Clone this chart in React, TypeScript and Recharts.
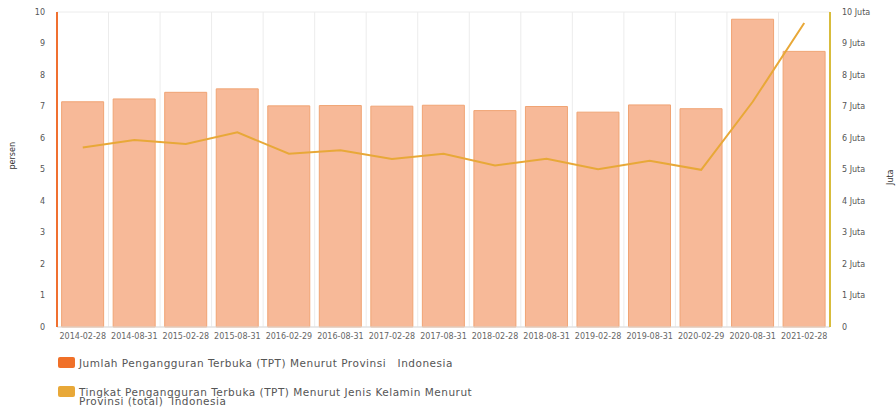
import { ComposedChart, Bar, Line, XAxis, YAxis, CartesianGrid } from "recharts";

const periode = [
  "2014-02-28", "2014-08-31", "2015-02-28", "2015-08-31", "2016-02-29",
  "2016-08-31", "2017-02-28", "2017-08-31", "2018-02-28", "2018-08-31",
  "2019-02-28", "2019-08-31", "2020-02-29", "2020-08-31", "2021-02-28",
];
// jumlah pengangguran (juta orang)
const jumlah = [7.15, 7.24, 7.45, 7.56, 7.02, 7.03, 7.01, 7.04, 6.87, 7.0, 6.82, 7.05, 6.93, 9.77, 8.75];
// tingkat pengangguran (persen)
const tingkat = [5.7, 5.94, 5.81, 6.18, 5.5, 5.61, 5.33, 5.5, 5.13, 5.34, 5.01, 5.28, 4.99, 7.15, 9.65];
const ticksKiri = [0, 1, 2, 3, 4, 5, 6, 7, 8, 9, 10];

const data = periode.map((p, i) => ({ periode: p, jumlah: jumlah[i], tingkat: tingkat[i] }));

const legendItems = [
  { color: "#f07028", label: "Jumlah Pengangguran Terbuka (TPT) Menurut Provinsi   Indonesia" },
  { color: "#e8a838", label: "Tingkat Pengangguran Terbuka (TPT) Menurut Jenis Kelamin Menurut\nProvinsi (total)  Indonesia" },
];

export default function App() {
  const font = "'DejaVu Sans', sans-serif";
  return (
    <div style={{ position: "absolute", left: 0, top: 0, width: 896, height: 410, background: "#fff", fontFamily: font }}>
      <ComposedChart
        width={896}
        height={345}
        data={data}
        margin={{ top: 12, right: 0, bottom: 0, left: 0 }}
        barCategoryGap="9%"
      >
        <CartesianGrid
          stroke="#ececec"
          verticalCoordinatesGenerator={({ offset }: any) =>
            Array.from({ length: periode.length + 1 }, (_, i) => offset.left + (i * offset.width) / periode.length)
          }
        />
        <XAxis
          dataKey="periode"
          interval={0}
          height={18}
          tickLine={false}
          axisLine={{ stroke: "#dddddd" }}
          tickSize={0}
          tickMargin={6}
          tick={{ fontSize: 8, fill: "#666", fontFamily: font }}
        />
        <YAxis
          yAxisId="kiri"
          width={57}
          domain={[0, 10]}
          ticks={ticksKiri}
          tickLine={false}
          tickSize={0}
          tickMargin={12}
          axisLine={{ stroke: "#f07030", strokeWidth: 2 }}
          tick={{ fontSize: 8, fill: "#555", fontFamily: font }}
          label={{ value: "persen", angle: -90, position: "insideLeft", offset: 12, style: { fontSize: 8, fill: "#333", fontFamily: font } }}
        />
        <YAxis
          yAxisId="kanan"
          orientation="right"
          width={66}
          domain={[0, 10]}
          ticks={ticksKiri}
          tickFormatter={(v: number) => (v === 0 ? "0" : `${v} Juta`)}
          tickLine={false}
          tickSize={0}
          tickMargin={12}
          axisLine={{ stroke: "#d8bc3c", strokeWidth: 2 }}
          tick={{ fontSize: 8, fill: "#555", fontFamily: font }}
          label={{ value: "Juta", angle: -90, position: "insideRight", offset: 6, style: { fontSize: 8, fill: "#333", fontFamily: font } }}
        />
        <Bar
          yAxisId="kanan"
          dataKey="jumlah"
          fill="#f7b998"
          stroke="#f0a474"
          strokeWidth={1}
          isAnimationActive={false}
        />
        <Line
          yAxisId="kiri"
          dataKey="tingkat"
          type="linear"
          stroke="#e8a838"
          strokeWidth={2}
          dot={false}
          isAnimationActive={false}
        />
      </ComposedChart>
      {legendItems.map((item, i) => (
        <div
          key={i}
          style={{ position: "absolute", left: 58, top: 356 + i * 29, display: "flex", alignItems: "flex-start" }}
        >
          <div style={{ width: 17, height: 11, background: item.color, borderRadius: 2, marginTop: 1 }} />
          <div
            style={{
              marginLeft: 4,
              fontSize: 10.5,
              letterSpacing: 0.5,
              lineHeight: "9px",
              color: "#555",
              whiteSpace: "pre",
              paddingTop: 3,
            }}
          >
            {item.label}
          </div>
        </div>
      ))}
    </div>
  );
}
